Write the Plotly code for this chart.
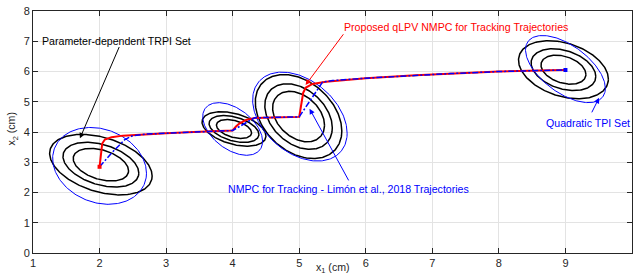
import numpy as np
import plotly.graph_objects as go

# ---------------- data ----------------
# Invariant-set ellipses: center, half-extents (x, y) and phase (deg)
set_cx = [2.02, 4.02, 4.99, 8.97]
set_cy = [2.92, 4.10, 4.51, 6.06]
black_hx = [0.77, 0.48, 0.65, 0.675]
black_hy = [1.00, 0.57, 1.39, 0.96]
black_phase = [112, 114, 110, 109]
black_scales = [[1.0, 0.74, 0.54], [1.0, 0.78, 0.55], [1.0, 0.78, 0.60], [1.0, 0.72, 0.50]]

blue_cx = [2.00, 4.00, 5.01, 9.00]
blue_cy = [2.88, 4.10, 4.51, 6.08]
blue_hx = [0.705, 0.45, 0.71, 0.60]
blue_hy = [1.27, 0.87, 1.47, 1.11]
blue_phase = [101, 118, 112, 125]

# Trajectories
red_x = [2.0, 2.02, 2.04, 2.08, 2.18, 2.35, 2.6, 3.0, 3.5, 4.0, 4.05, 4.1, 4.2, 4.33, 4.6,
         5.0, 5.03, 5.06, 5.1, 5.2, 5.4, 6.0, 6.75, 7.27, 8.0, 8.77, 9.0]
red_y = [2.85, 3.3, 3.62, 3.75, 3.83, 3.88, 3.92, 3.96, 4.01, 4.05, 4.18, 4.28, 4.4, 4.46, 4.48,
         4.5, 4.9, 5.3, 5.47, 5.59, 5.66, 5.78, 5.88, 5.93, 6.0, 6.04, 6.05]
blue_x = [2.0, 2.2, 2.38, 2.5, 2.7, 3.0, 3.5, 4.0, 4.33, 4.6, 5.0, 5.35, 5.5, 6.0, 6.75, 7.27,
          8.0, 8.77, 9.0]
blue_y = [2.85, 3.35, 3.75, 3.88, 3.93, 3.96, 4.01, 4.05, 4.47, 4.48, 4.5, 5.65, 5.7, 5.78, 5.88,
          5.93, 6.0, 6.04, 6.05]

x_ticks = [1, 2, 3, 4, 5, 6, 7, 8, 9, 10]
y_ticks = [0, 1, 2, 3, 4, 5, 6, 7, 8]

# ---------------- figure ----------------
FONT = "Liberation Sans, Arial, sans-serif"
TXT = "#262626"
t = np.linspace(0, 2 * np.pi, 241)

fig = go.Figure()


def ellipse(cx, cy, hx, hy, phase, s=1.0):
    d = np.deg2rad(phase)
    return cx + s * hx * np.cos(t), cy + s * hy * np.cos(t - d)


for i in range(len(set_cx)):
    for s in black_scales[i]:
        ex, ey = ellipse(set_cx[i], set_cy[i], black_hx[i], black_hy[i], black_phase[i], s)
        fig.add_trace(go.Scatter(x=ex, y=ey, mode="lines",
                                 line=dict(color="black", width=1.5), hoverinfo="skip"))
for i in range(len(blue_cx)):
    ex, ey = ellipse(blue_cx[i], blue_cy[i], blue_hx[i], blue_hy[i], blue_phase[i])
    fig.add_trace(go.Scatter(x=ex, y=ey, mode="lines",
                             line=dict(color="#0000ff", width=1), hoverinfo="skip"))

fig.add_trace(go.Scatter(x=red_x, y=red_y, mode="lines",
                         line=dict(color="#ff0000", width=2)))
fig.add_trace(go.Scatter(x=blue_x, y=blue_y, mode="lines",
                         line=dict(color="#0000ff", width=1.5, dash="6px,2px,2px,2px")))
fig.add_trace(go.Scatter(x=[red_x[0]], y=[red_y[0]], mode="markers",
                         marker=dict(color="#ff0000", symbol="square", size=4)))
fig.add_trace(go.Scatter(x=[blue_x[-1]], y=[blue_y[-1]], mode="markers",
                         marker=dict(color="#0000ff", symbol="square", size=4)))

# annotations: (text, text_x, text_y, tail_x, tail_y, head_x, head_y, color)
notes = [
    ("Parameter-dependent TRPI Set", 2.26, 7.02, 2.305, 6.86, 1.705, 3.79, "black"),
    ("Proposed qLPV NMPC for Tracking Trajectories", 7.36, 7.48, 5.68, 7.28, 5.095, 5.55, "#ff0000"),
    ("NMPC for Tracking - Limón et al., 2018 Trajectories", 5.74, 2.12, 5.755, 2.35, 5.155, 4.77, "#0000ff"),
    ("Quadratic TPI Set", 9.34, 4.31, 9.385, 4.6, 9.505, 5.13, "#0000ff"),
]
for txt, tx, ty, ax, ay, hx, hy, col in notes:
    fig.add_annotation(x=hx, y=hy, ax=ax, ay=ay, xref="x", yref="y", axref="x", ayref="y",
                       text="", showarrow=True, arrowhead=2, arrowsize=1.1, arrowwidth=1,
                       arrowcolor=col, standoff=0, startstandoff=0)
    fig.add_annotation(x=tx, y=ty, xref="x", yref="y", text=txt, showarrow=False,
                       font=dict(family=FONT, size=10.6, color=col))

# axis titles
fig.add_annotation(x=(333 - 33) / 600, y=-(268 - 253) / 245, xref="paper", yref="paper",
                   text="x<sub>1</sub> (cm)", showarrow=False, xanchor="center", yanchor="middle",
                   font=dict(family=FONT, size=10.6, color=TXT))
fig.add_annotation(x=-(33 - 12) / 600, y=(253 - 127) / 245, xref="paper", yref="paper",
                   text="x<sub>2</sub> (cm)", textangle=-90, showarrow=False,
                   xanchor="center", yanchor="middle",
                   font=dict(family=FONT, size=10.6, color=TXT))

axis_common = dict(showline=True, linecolor=TXT, linewidth=1, mirror="ticks",
                   ticks="inside", ticklen=5, tickcolor=TXT, showgrid=True,
                   gridcolor="#e3e3e3", gridwidth=1, zeroline=False,
                   tickfont=dict(family=FONT, size=11, color=TXT))
fig.update_xaxes(range=[1, 10], tickvals=x_ticks, **axis_common)
fig.update_yaxes(range=[0, 8], tickvals=y_ticks, **axis_common)

fig.update_layout(width=638, height=277, margin=dict(l=33, r=5, t=8, b=24),
                  plot_bgcolor="white", paper_bgcolor="white", showlegend=False,
                  font=dict(family=FONT, size=10, color=TXT))

fig.write_html("out.html", config={"displayModeBar": False},
               post_script="document.body.style.margin='0';document.body.style.overflow='hidden';")
